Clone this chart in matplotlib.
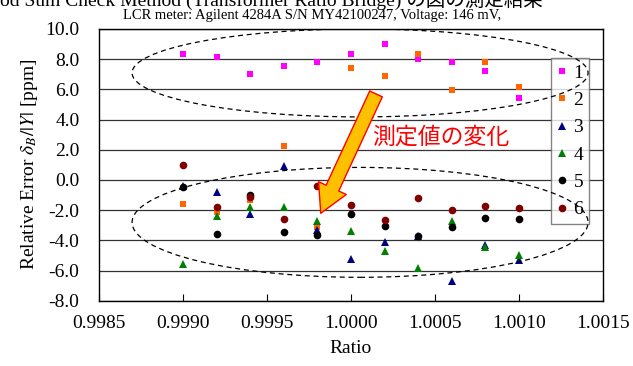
import numpy as np
import matplotlib
matplotlib.use("Agg")
import matplotlib.pyplot as plt
from matplotlib.patches import Ellipse
from matplotlib.ticker import FormatStrFormatter, MultipleLocator

plt.rcParams['font.family'] = ['Liberation Serif', 'Noto Sans CJK JP', 'DejaVu Sans']
plt.rcParams['mathtext.fontset'] = 'stix'
plt.rcParams['axes.unicode_minus'] = False

# ratio settings and relative error [ppm] for each run
ratio = [0.9990, 0.9992, 0.9994, 0.9996, 0.9998, 1.0000,
         1.0002, 1.0004, 1.0006, 1.0008, 1.0010]
run1 = [8.32, 8.15, 7.00, 7.53, 7.81, 8.36, 8.99, 8.01, 7.81, 7.24, 5.41]
run2 = [-1.61, -2.12, -1.32, 2.25, -3.13, 7.44, 6.89, 8.32, 5.94, 7.81, 6.14]
run3 = [-0.38, -0.77, -2.27, 0.95, -3.31, -5.23, -4.10, -3.72, -6.67, -4.33, -5.32]
run4 = [-5.58, -2.36, -1.81, -1.77, -2.70, -3.38, -4.68, -5.85, -2.70, -4.46, -4.97]
run5 = [-0.48, -3.58, -0.97, -3.42, -3.66, -2.25, -3.05, -3.69, -3.11, -2.54, -2.58]
run6 = [0.99, -1.77, -1.13, -2.58, -0.38, -1.66, -2.63, -1.17, -2.01, -1.70, -1.85]

runs = [run1, run2, run3, run4, run5, run6]
labels = ['1', '2', '3', '4', '5', '6']
markers = ['s', 's', '^', '^', 'o', 'o']
colors = ['#FF00FF', '#FF6600', '#000080', '#008000', '#000000', '#800000']
sizes = [5, 5, 5.5, 5.5, 5.5, 5.5]

fig = plt.figure(figsize=(6.33, 3.66), dpi=100)
ax = fig.add_axes([0.1564, 0.1784, 0.7962, 0.7424])

for vals, lab, m, c, s in zip(runs, labels, markers, colors, sizes):
    ax.plot(ratio, vals, linestyle='none', marker=m, color=c,
            markersize=s, markeredgewidth=0, label=lab, zorder=3)

ax.set_xlim(0.9985, 1.0015)
ax.set_ylim(-8, 10)
ax.xaxis.set_major_locator(MultipleLocator(0.0005))
ax.xaxis.set_major_formatter(FormatStrFormatter('%.4f'))
ax.yaxis.set_major_locator(MultipleLocator(2))
ax.yaxis.set_major_formatter(FormatStrFormatter('%.1f'))
ax.tick_params(axis='x', direction='in', length=5, width=0.8, pad=10, labelsize=14)
ax.tick_params(axis='y', length=0, pad=14, labelsize=14)
ax.yaxis.grid(True, color='#333333', linewidth=0.9)
ax.set_axisbelow(True)
for sp in ax.spines.values():
    sp.set_color('black')
    sp.set_linewidth(1.0)

ax.set_xlabel('Ratio', fontsize=14, labelpad=6)
ax.set_ylabel(r'Relative Error $\delta_B/|Y|$ [ppm]', fontsize=14, labelpad=4)

leg = ax.legend(loc='upper left', bbox_to_anchor=(0.897, 0.892),
                borderaxespad=0, fontsize=14, frameon=True, fancybox=False,
                handlelength=0.5, handletextpad=0.35, labelspacing=0.5,
                borderpad=0.3, markerscale=1.0)
leg.get_frame().set_edgecolor('#666666')
leg.get_frame().set_linewidth(1.0)

# dashed groupings: upper cluster and lower cluster
upper = Ellipse((1.000054, 7.09), 0.002714, 5.83, fill=False,
                linestyle=(0, (4, 3)), linewidth=0.9, edgecolor='black', zorder=6)
lower = Ellipse((1.000054, -2.81), 0.002714, 7.28, fill=False,
                linestyle=(0, (4, 3)), linewidth=0.9, edgecolor='black', zorder=6)
ax.add_patch(upper)
ax.add_patch(lower)

# block arrow showing the shift of the measured values
ax.annotate('', xy=(0.999820, -2.21), xytext=(1.000149, 5.70),
            arrowprops=dict(arrowstyle='simple,head_width=2.2,head_length=2.0,tail_width=1.0',
                            mutation_scale=10, facecolor='#FFC000', edgecolor='#FF0000',
                            linewidth=1.0, shrinkA=0, shrinkB=0),
            zorder=7)
ax.text(1.000125, 2.85, '測定値の変化', color='#FF0000', fontsize=16.5,
        family=['Noto Sans CJK JP'], va='center', ha='left', zorder=7)

fig.text(0.493, 1 - 16 / 366, 'LCR meter: Agilent 4284A S/N MY42100247, Voltage: 146 mV,',
         ha='center', va='center', fontsize=10.5)
fig.text(0.0, 1.0, 'od Sum Check Method (Transformer Ratio Bridge) の図の測定結果',
         ha='left', va='center', fontsize=14)

fig.savefig('out.png', dpi=100)
